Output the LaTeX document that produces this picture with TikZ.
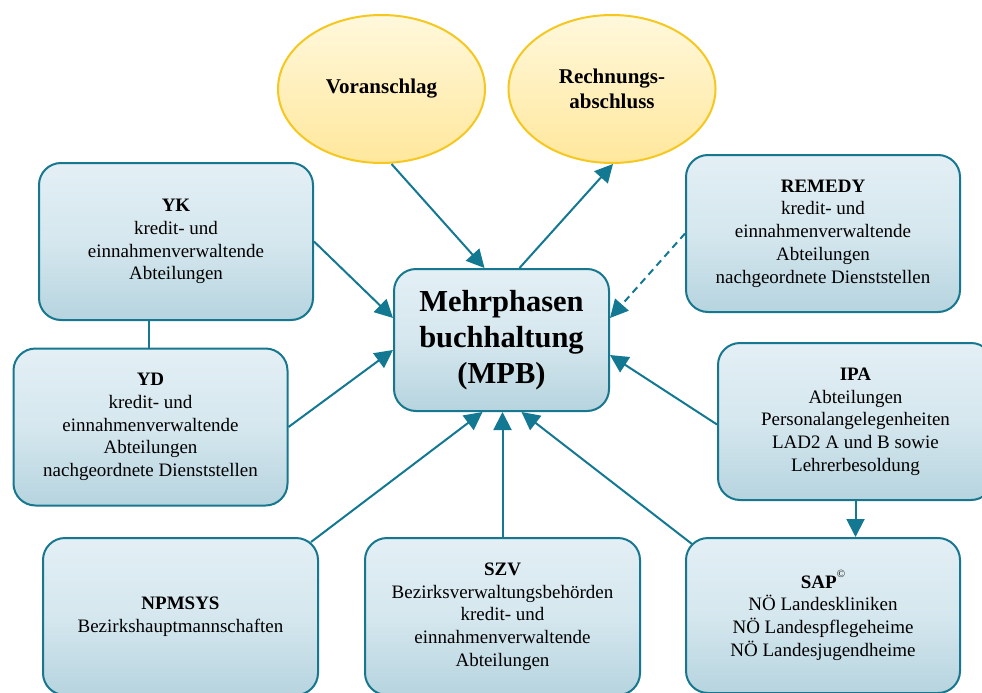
\documentclass[tikz,border=0pt]{standalone}
\usepackage{fontspec}
\setmainfont{Liberation Serif}
\usetikzlibrary{arrows.meta,shapes.geometric}
\definecolor{boxtop}{HTML}{E3EFF5}
\definecolor{boxbot}{HTML}{B6D4DF}
\definecolor{boxline}{HTML}{17778F}
\definecolor{arrowc}{HTML}{137891}
\definecolor{elltop}{HTML}{FFF8DC}
\definecolor{ellbot}{HTML}{FFE79C}
\definecolor{ellline}{HTML}{F6C71E}
\tikzset{
  sysbox/.style={draw=boxline, line width=2pt, rounded corners=22pt,
    top color=boxtop, bottom color=boxbot, middle color=boxtop!70!boxbot,
    minimum width=274pt, minimum height=157pt, inner sep=0pt, align=center,
    font=\fontsize{19}{22.7}\selectfont, text=black},
  mainbox/.style={sysbox, minimum width=215pt, minimum height=142pt,
    font=\bfseries\fontsize{30.5}{36}\selectfont},
  phase/.style={ellipse, draw=ellline, line width=2pt, top color=elltop,
    bottom color=ellbot, minimum width=207pt, minimum height=148pt,
    inner sep=0pt, align=center, font=\bfseries\fontsize{21}{25}\selectfont},
  conn/.style={draw=arrowc, line width=2pt,
    -{Triangle[length=18pt,width=18pt]}, arrowc},
  plainconn/.style={draw=boxline, line width=1.6pt},
}
\begin{document}
\begin{tikzpicture}[x=1pt,y=-1pt]
\useasboundingbox (0,0) rectangle (982,693);
\fill[white] (0,0) rectangle (982,693);
\begin{scope}
\clip (0,0) rectangle (982,693);
\node[phase] (V) at (381.5,89) {Voranschlag};
\node[phase] (R) at (612,89) {Rechnungs-\\abschluss};
\node[mainbox] (MPB) at (501.5,340) {Mehrphasen\\buchhaltung\\(MPB)};
\node[sysbox] (YK) at (176,241.5) {\textbf{YK}\\kredit- und\\einnahmenverwaltende\\Abteilungen};
\node[sysbox] (YD) at (150.5,427) {\textbf{YD}\\kredit- und\\einnahmenverwaltende\\Abteilungen\\nachgeordnete Dienststellen};
\node[sysbox] (REM) at (823,233.5) {\textbf{REMEDY}\\kredit- und\\einnahmenverwaltende\\Abteilungen\\nachgeordnete Dienststellen};
\node[sysbox, minimum width=275pt] (IPA) at (855.5,421.5) {\textbf{IPA}\\Abteilungen\\Personalangelegenheiten\\LAD2 A und B sowie\\Lehrerbesoldung};
\node[sysbox, minimum width=275pt] (NPM) at (180.5,616.5) {\textbf{NPMSYS}\\Bezirkshauptmannschaften};
\node[sysbox, minimum width=275pt] (SZV) at (502.5,616.5) {\textbf{SZV}\\Bezirksverwaltungsbehörden\\kredit- und\\einnahmenverwaltende\\Abteilungen};
\node[sysbox, minimum height=155pt] (SAP) at (823,615.5) {\textbf{SAP}\raisebox{0.55em}{\fontsize{11}{11}\selectfont ©}\\NÖ Landeskliniken\\NÖ Landespflegeheime\\NÖ Landesjugendheime};

\draw[conn] ([xshift=10pt]V.south) -- ([xshift=-17pt]MPB.north);
\draw[conn] ([xshift=18pt]MPB.north) -- ([xshift=1pt]R.south);
\draw[conn] (YK.east) -- ([yshift=22pt]MPB.west);
\draw[conn] (YD.east) -- ([yshift=-10pt]MPB.west);
\draw[conn, dash pattern=on 7pt off 5pt] (REM.west) -- ([yshift=22pt]MPB.east);
\draw[conn] ([yshift=-3pt]IPA.west) -- ([yshift=-15pt]MPB.east);
\draw[conn] (IPA.south) -- (IPA.south |- SAP.north);
\draw[conn] ([xshift=-8pt,yshift=-5pt]NPM.north east) -- ([xshift=-19pt]MPB.south);
\draw[conn] (SZV.north) -- (SZV.north |- MPB.south);
\draw[conn] ([xshift=7pt,yshift=-7pt]SAP.north west) -- ([xshift=20pt]MPB.south);
\draw[plainconn] (YD.north -| 149,0) -- (YK.south -| 149,0);
\end{scope}
\end{tikzpicture}
\end{document}
